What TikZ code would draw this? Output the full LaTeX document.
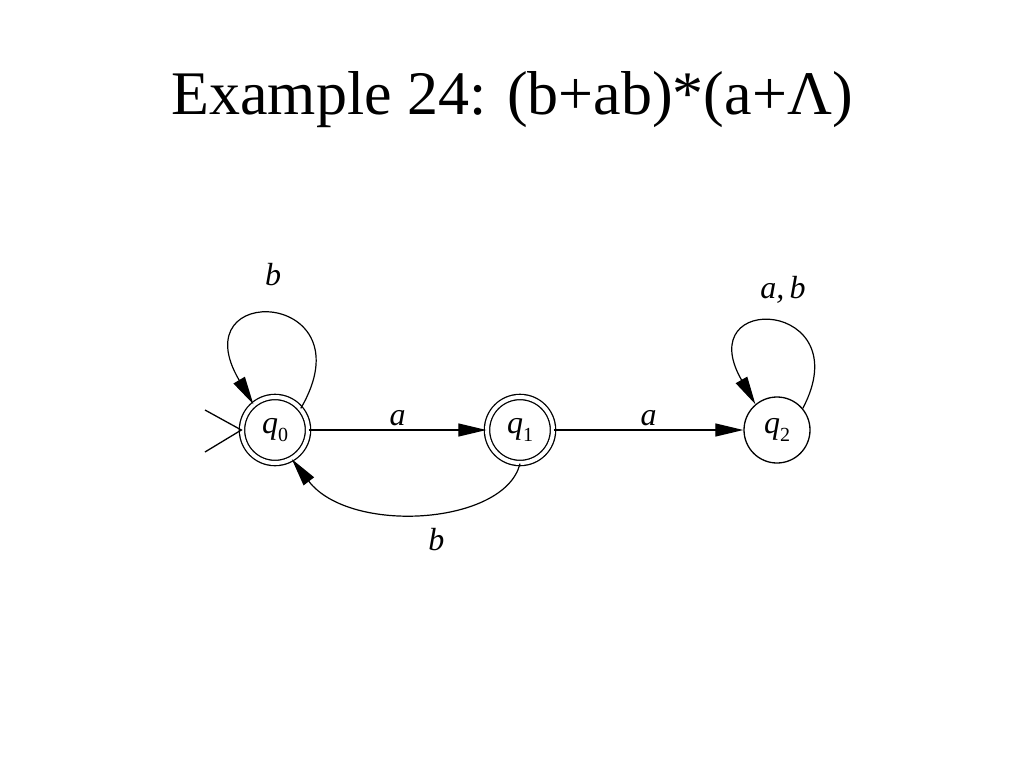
\documentclass[tikz,border=0pt]{standalone}
\usepackage{fontspec}
\setmainfont{Liberation Serif}
\usetikzlibrary{arrows.meta}
\newcommand{\qs}[1]{\textit{q}\raisebox{-0.25em}{\fontsize{20}{24}\selectfont #1}}
\begin{document}
\begin{tikzpicture}[x=1pt,y=-1pt,
  st/.style={circle,draw,line width=1.3pt,minimum size=66pt,inner sep=0pt,font=\fontsize{32}{38}\selectfont},
  acc/.style={st,double,double distance=4pt},
  lab/.style={font=\fontsize{32}{38}\selectfont\itshape},
  tr/.style={line width=1.2pt,-{Triangle[length=28pt,width=13pt]}}]
\useasboundingbox (0,0) rectangle (1024,768);
\node[font=\fontsize{62}{72}\selectfont] (title) at (512,100) {Example 24: (b+ab)*(a+Λ)};
\node[acc] (q0) at (275,430) {\qs{0}};
\node[acc] (q1) at (520,430) {\qs{1}};
\node[st] (q2) at (777,430) {\qs{2}};
\coordinate (s1) at (205,410); \coordinate (s2) at (205,452);
\draw[line width=1.3pt] (s1) -- (q0.west) -- (s2);
\draw[tr] (q0) -- node[lab,above]{a} (q1);
\draw[tr] (q1) -- node[lab,above]{a} (q2);
\draw[tr] (q1.south) .. controls (505,525) and (350,535) .. (q0.-60) node[lab,pos=0.45,below=12pt]{b};
\draw[tr] (q0.40) .. controls (370,290) and (180,280) .. (q0.130);
\node[lab] (lb) at (273,275) {b};
\draw[tr] (q2.40) .. controls (860,300) and (690,290) .. (q2.130);
\node[lab] (lab2) at (783,290) {a,\,b};
\end{tikzpicture}
\end{document}
